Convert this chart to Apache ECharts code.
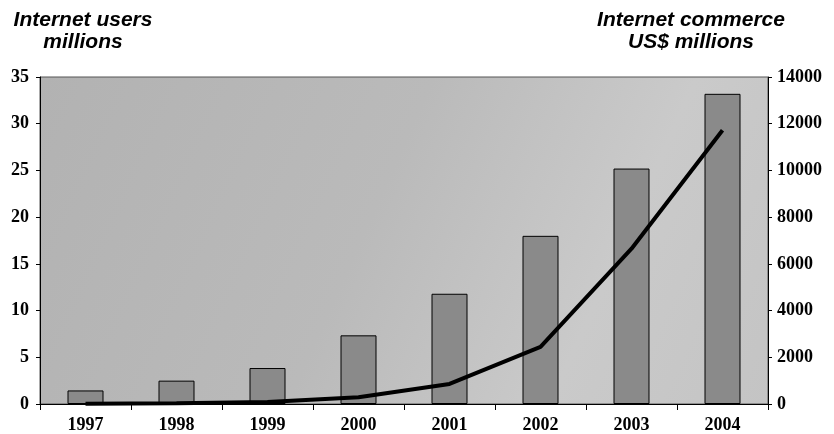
<!DOCTYPE html>
<html>
<head>
<meta charset="utf-8">
<script src="https://cdn.jsdelivr.net/npm/echarts@6/dist/echarts.min.js"></script>
<style>
  html, body { margin: 0; padding: 0; background: #fff; }
  #chart { width: 834px; height: 434px; }
</style>
</head>
<body>
<div id="chart"></div>
<script>
// Years on the category axis
const years = ['1997', '1998', '1999', '2000', '2001', '2002', '2003', '2004'];
// Internet users, millions (bars, left axis)
const users = [1.45, 2.5, 3.85, 7.35, 11.8, 18.0, 25.2, 33.2];
// Internet commerce, US$ millions (line, right axis)
const commerce = [10, 30, 90, 290, 860, 2450, 6650, 11720];
// Axis tick values
const usersTicks = [0, 5, 10, 15, 20, 25, 30, 35];
const commerceTicks = [0, 2000, 4000, 6000, 8000, 10000, 12000, 14000];

const chart = echarts.init(document.getElementById('chart'), null, { renderer: 'canvas' });

const tickFont = {
  fontFamily: 'Liberation Serif',
  fontWeight: 'bold',
  fontSize: 18,
  color: '#000'
};
const titleFont = {
  fontFamily: 'Liberation Sans',
  fontStyle: 'italic',
  fontWeight: 'bold',
  fontSize: 21,
  lineHeight: 22,
  color: '#000'
};

chart.setOption({
  animation: false,
  backgroundColor: '#ffffff',
  title: [
    { text: 'Internet users\nmillions', left: 83, top: 9, padding: 0, textAlign: 'center', textStyle: titleFont },
    { text: 'Internet commerce\nUS$ millions', left: 691, top: 9, padding: 0, textAlign: 'center', textStyle: titleFont }
  ],
  grid: {
    left: 40, right: 66, top: 77, bottom: 27,
    show: true,
    borderWidth: 1,
    borderColor: '#555',
    backgroundColor: new echarts.graphic.LinearGradient(0, 0, 1, 1, [
      { offset: 0, color: '#b2b2b2' },
      { offset: 0.45, color: '#bababa' },
      { offset: 0.75, color: '#cacaca' },
      { offset: 1, color: '#c4c4c4' }
    ])
  },
  xAxis: {
    type: 'category',
    data: years,
    boundaryGap: true,
    axisLine: { show: true, lineStyle: { color: '#000', width: 1 } },
    axisTick: { show: true, length: 6, lineStyle: { color: '#000' } },
    axisLabel: Object.assign({ margin: 12 }, tickFont),
    splitLine: { show: false }
  },
  yAxis: [
    {
      type: 'value',
      min: usersTicks[0],
      max: usersTicks[usersTicks.length - 1],
      interval: usersTicks[1] - usersTicks[0],
      position: 'left',
      axisLine: { show: true, lineStyle: { color: '#000', width: 1 } },
      axisTick: { show: true, length: 4, lineStyle: { color: '#000' } },
      axisLabel: Object.assign({ margin: 11, formatter: v => String(v) }, tickFont),
      splitLine: { show: false }
    },
    {
      type: 'value',
      min: commerceTicks[0],
      max: commerceTicks[commerceTicks.length - 1],
      interval: commerceTicks[1] - commerceTicks[0],
      position: 'right',
      axisLine: { show: true, lineStyle: { color: '#000', width: 1 } },
      axisTick: { show: true, length: 4, lineStyle: { color: '#000' } },
      axisLabel: Object.assign({ margin: 9, formatter: v => String(v) }, tickFont),
      splitLine: { show: false }
    }
  ],
  series: [
    {
      name: 'Internet users',
      type: 'bar',
      yAxisIndex: 0,
      data: users,
      barWidth: 36,
      itemStyle: { color: '#8a8a8a', borderColor: '#000', borderWidth: 1 }
    },
    {
      name: 'Internet commerce',
      type: 'line',
      yAxisIndex: 1,
      data: commerce,
      symbol: 'none',
      smooth: false,
      lineStyle: { color: '#000', width: 4 },
      z: 3
    }
  ]
});
</script>
</body>
</html>
